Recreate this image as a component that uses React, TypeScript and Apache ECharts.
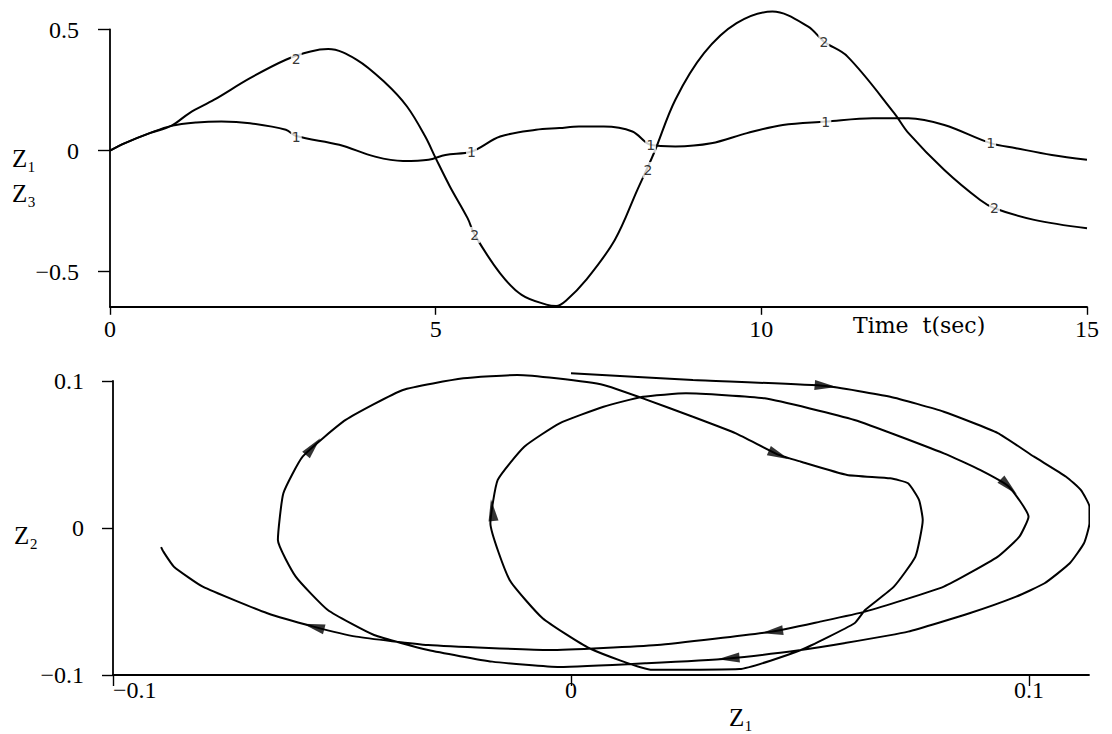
import React, { useEffect, useRef } from "react";
import * as echarts from "echarts";

const FONT = "'Liberation Serif', 'DejaVu Serif', serif";
const WIDE_FONT = "'DejaVu Serif', 'Liberation Serif', serif";

// ---- top panel: time responses ----
const timeTicks = [0, 5, 10, 15];
const topYTicks = [-0.5, 0, 0.5];

// curve "1" : Z1(t)
const z1Series: number[][] = [
  [0, 0], [0.23, 0.031], [0.61, 0.072], [0.94, 0.102], [1.33, 0.116], [1.71, 0.12],
  [2.15, 0.113], [2.7, 0.086], [2.86, 0.06], [3.52, 0.024], [4.07, -0.025], [4.5, -0.043],
  [4.89, -0.038], [5.15, -0.018], [5.55, -0.004], [5.99, 0.058], [6.54, 0.086], [6.9, 0.093],
  [7.2, 0.099], [7.58, 0.099], [8.02, 0.079], [8.3, 0.024], [8.68, 0.017], [9.23, 0.03],
  [9.78, 0.072], [10.33, 0.106], [10.99, 0.12], [11.71, 0.134], [12.26, 0.134], [12.81, 0.106],
  [13.52, 0.031], [13.91, 0.01], [14.46, -0.018], [15, -0.038],
];

// curve "2" : Z3(t)
const z3Series: number[][] = [
  [0, 0], [0.23, 0.031], [0.61, 0.072], [0.94, 0.102], [1.22, 0.155], [1.6, 0.21],
  [2.15, 0.299], [2.7, 0.375], [3.08, 0.409], [3.35, 0.419], [3.79, 0.375], [4.23, 0.279],
  [4.56, 0.182], [4.84, 0.058], [5.0, -0.031], [5.22, -0.149], [5.49, -0.279], [5.6, -0.348],
  [5.99, -0.507], [6.32, -0.596], [6.7, -0.636], [6.85, -0.642], [7.0, -0.62], [7.31, -0.534],
  [7.75, -0.369], [8.1, -0.16], [8.35, -0.011], [8.68, 0.21], [9.12, 0.402], [9.62, 0.526],
  [10.17, 0.574], [10.72, 0.512], [10.96, 0.45], [11.32, 0.389], [12.04, 0.155], [12.26, 0.072],
  [12.81, -0.08], [13.36, -0.204], [13.58, -0.238], [14.19, -0.286], [15, -0.321],
];

const curve1Labels: number[][] = [[2.86, 0.058], [5.55, -0.004], [8.3, 0.024], [10.99, 0.12], [13.52, 0.031]];
const curve2Labels: number[][] = [[2.86, 0.378], [5.6, -0.348], [8.26, -0.08], [10.96, 0.45], [13.58, -0.238]];

// ---- bottom panel: phase plane Z2 vs Z1 ----
const phaseXTicks = [-0.1, 0, 0.1];
const phaseYTicks = [-0.1, 0, 0.1];

const phaseOuter: number[][] = [
  [0, 0.1053], [0.0266, 0.1007], [0.0556, 0.0966], [0.0697, 0.0893], [0.0814, 0.0791],
  [0.0932, 0.0646], [0.1011, 0.0485], [0.1081, 0.0349], [0.1113, 0.0259], [0.1132, 0.0145],
  [0.1132, 0.0032], [0.112, -0.0104], [0.1089, -0.024], [0.1034, -0.0376], [0.0972, -0.0467],
  [0.087, -0.058], [0.0736, -0.0705], [0.0596, -0.0784], [0.0502, -0.083], [0.0344, -0.0887],
  [0.0165, -0.092], [-0.0025, -0.0946],
];

const phaseMiddle: number[][] = [
  [-0.0172, -0.0909], [-0.0312, -0.083], [-0.043, -0.0728], [-0.0531, -0.0558], [-0.0601, -0.0331],
  [-0.064, -0.0082], [-0.0628, 0.0236], [-0.0586, 0.0485], [-0.0492, 0.0735], [-0.0367, 0.0939],
  [-0.0235, 0.1018], [-0.0117, 0.1041], [-0.0032, 0.1018], [0.0071, 0.0973], [0.0157, 0.0882],
  [0.0266, 0.0757], [0.036, 0.0644], [0.0454, 0.0497], [0.0502, 0.0451], [0.0603, 0.0361],
  [0.0697, 0.0338], [0.0736, 0.0304], [0.076, 0.019], [0.0768, 0.0054], [0.0752, -0.0195],
  [0.0705, -0.0399], [0.0642, -0.0558], [0.0619, -0.0648], [0.0502, -0.083], [0.0368, -0.096],
  [0.0178, -0.0965],
];

const phaseInner: number[][] = [
  [0.004, -0.0818], [-0.0062, -0.0614], [-0.0134, -0.0354], [-0.0176, 0.0032], [-0.016, 0.0327],
  [-0.0102, 0.0553], [-0.0025, 0.0712], [0.0071, 0.0825], [0.0157, 0.0893], [0.0251, 0.0916],
  [0.0423, 0.0882], [0.0619, 0.0735], [0.0814, 0.0508], [0.0893, 0.0395], [0.0956, 0.0281],
  [0.0999, 0.0077], [0.0979, -0.0059], [0.0932, -0.0195], [0.0814, -0.0399], [0.0642, -0.0569],
  [0.0544, -0.0637], [0.0439, -0.0705], [0.0188, -0.0796], [-0.0047, -0.083], [-0.0312, -0.0796],
  [-0.0469, -0.0739], [-0.0562, -0.0671], [-0.0663, -0.058], [-0.0804, -0.0399], [-0.0867, -0.0263],
  [-0.089, -0.0161], [-0.0895, -0.013],
];

const arrowPoints: number[][] = [
  [0.0556, 0.0966], [0.0344, -0.0887], [-0.0563, 0.0553], [0.0454, 0.0497],
  [-0.0172, 0.0122], [0.0956, 0.0281], [0.0439, -0.0705], [-0.0562, -0.0671],
];

const trajectory = [...phaseOuter, ...phaseMiddle, ...phaseInner];

const minusFmt = (v: number) => String(v).replace("-", "\u2212");

const axisLineStyle = { color: "#000", width: 1.8 };
const labelBase = { color: "#000", fontSize: 24, fontFamily: FONT };

function buildOption(): any {
  const lineCommon = {
    type: "line",
    showSymbol: false,
    symbol: "none",
    silent: true,
    clip: false,
    lineStyle: { color: "#000", width: 2 },
  };
  const labelSeries = (data: number[][], txt: string) => ({
    type: "scatter",
    xAxisIndex: 0,
    yAxisIndex: 0,
    data,
    symbolSize: 1,
    silent: true,
    z: 5,
    itemStyle: { color: "rgba(0,0,0,0)" },
    label: {
      show: true,
      position: "inside",
      formatter: txt,
      color: "#000",
      fontSize: 14,
      fontFamily: "'DejaVu Sans', sans-serif",
      backgroundColor: "#fff",
      padding: [1, 1],
    },
  });
  const zText = (x: number, y: number, text: string) => ({
    type: "text",
    x,
    y,
    style: { text, fontSize: 25, fontFamily: FONT, fill: "#000", align: "center", verticalAlign: "middle" },
  });
  return {
    animation: false,
    backgroundColor: "#fff",
    grid: [
      { left: 110, top: 29.5, width: 977, height: 277.3 },
      { left: 113, top: 381, width: 976, height: 294 },
    ],
    xAxis: [
      {
        gridIndex: 0, type: "value", min: 0, max: 15,
        axisLine: { show: true, onZero: false, lineStyle: axisLineStyle },
        axisTick: { show: true, length: 8, customValues: timeTicks, lineStyle: { color: "#000", width: 1.4 } },
        axisLabel: { ...labelBase, customValues: timeTicks, margin: 10, formatter: (v: number) => String(v) },
        splitLine: { show: false },
      },
      {
        gridIndex: 1, type: "value", min: -0.1, max: 0.1131,
        axisLine: { show: true, onZero: false, lineStyle: axisLineStyle },
        axisTick: { show: true, length: 11, customValues: phaseXTicks, lineStyle: { color: "#000", width: 1.4 } },
        axisLabel: { ...labelBase, customValues: phaseXTicks, margin: 3, alignMinLabel: "left", formatter: minusFmt },
        splitLine: { show: false },
      },
    ],
    yAxis: [
      {
        gridIndex: 0, type: "value", min: -0.645, max: 0.5,
        axisLine: { show: true, onZero: false, lineStyle: axisLineStyle },
        axisTick: { show: true, length: 12, customValues: topYTicks, lineStyle: { color: "#000", width: 1.4 } },
        axisLabel: { ...labelBase, customValues: topYTicks, margin: 31, formatter: minusFmt },
        splitLine: { show: false },
      },
      {
        gridIndex: 1, type: "value", min: -0.1, max: 0.1,
        axisLine: { show: true, onZero: false, lineStyle: axisLineStyle },
        axisTick: { show: true, length: 11, customValues: phaseYTicks, lineStyle: { color: "#000", width: 1.4 } },
        axisLabel: { ...labelBase, customValues: phaseYTicks, margin: 29, formatter: minusFmt },
        splitLine: { show: false },
      },
    ],
    series: [
      { ...lineCommon, name: "Z1", xAxisIndex: 0, yAxisIndex: 0, data: z1Series, smooth: 0.35 },
      { ...lineCommon, name: "Z3", xAxisIndex: 0, yAxisIndex: 0, data: z3Series, smooth: 0.35 },
      labelSeries(curve1Labels, "1"),
      labelSeries(curve2Labels, "2"),
      { ...lineCommon, name: "phase", xAxisIndex: 1, yAxisIndex: 1, data: trajectory, smooth: 0.15 },
      {
        id: "arrows", type: "scatter", xAxisIndex: 1, yAxisIndex: 1, silent: true, z: 4,
        symbol: "path://M0,0L5,20L-5,20Z", symbolSize: [10, 22],
        itemStyle: { color: "#000" },
        data: arrowPoints,
      },
    ],
    graphic: [
      zText(24, 158, "Z\u2081"),
      zText(24, 193, "Z\u2083"),
      { type: "text", x: 853, y: 325, style: { text: "Time  t(sec)", fontSize: 22, fontFamily: WIDE_FONT, fill: "#000", align: "left", verticalAlign: "middle" } },
      zText(26, 535, "Z\u2082"),
      zText(741, 717, "Z\u2081"),
    ],
  };
}

export default function App() {
  const ref = useRef<HTMLDivElement>(null);
  useEffect(() => {
    if (!ref.current) return;
    const chart = echarts.init(ref.current, null, { renderer: "svg" });
    chart.setOption(buildOption());
    const px = trajectory.map((p) => chart.convertToPixel({ gridIndex: 1 }, p) as number[]);
    const arrowData = arrowPoints.map((a) => {
      const pa = chart.convertToPixel({ gridIndex: 1 }, a) as number[];
      let best = 0;
      let bestD = Infinity;
      px.forEach((q, i) => {
        const d = (q[0] - pa[0]) ** 2 + (q[1] - pa[1]) ** 2;
        if (d < bestD) { bestD = d; best = i; }
      });
      const prev = px[Math.max(best - 1, 0)];
      const next = px[Math.min(best + 1, px.length - 1)];
      const dx = next[0] - prev[0];
      const dy = next[1] - prev[1];
      const rot = (Math.atan2(-dx, -dy) * 180) / Math.PI;
      return { value: a, symbolRotate: rot };
    });
    chart.setOption({ series: [{ id: "arrows", data: arrowData }] });
    return () => chart.dispose();
  }, []);
  return (
    <div
      ref={ref}
      style={{ position: "absolute", left: 0, top: 0, width: 1112, height: 734, background: "#fff" }}
    />
  );
}
